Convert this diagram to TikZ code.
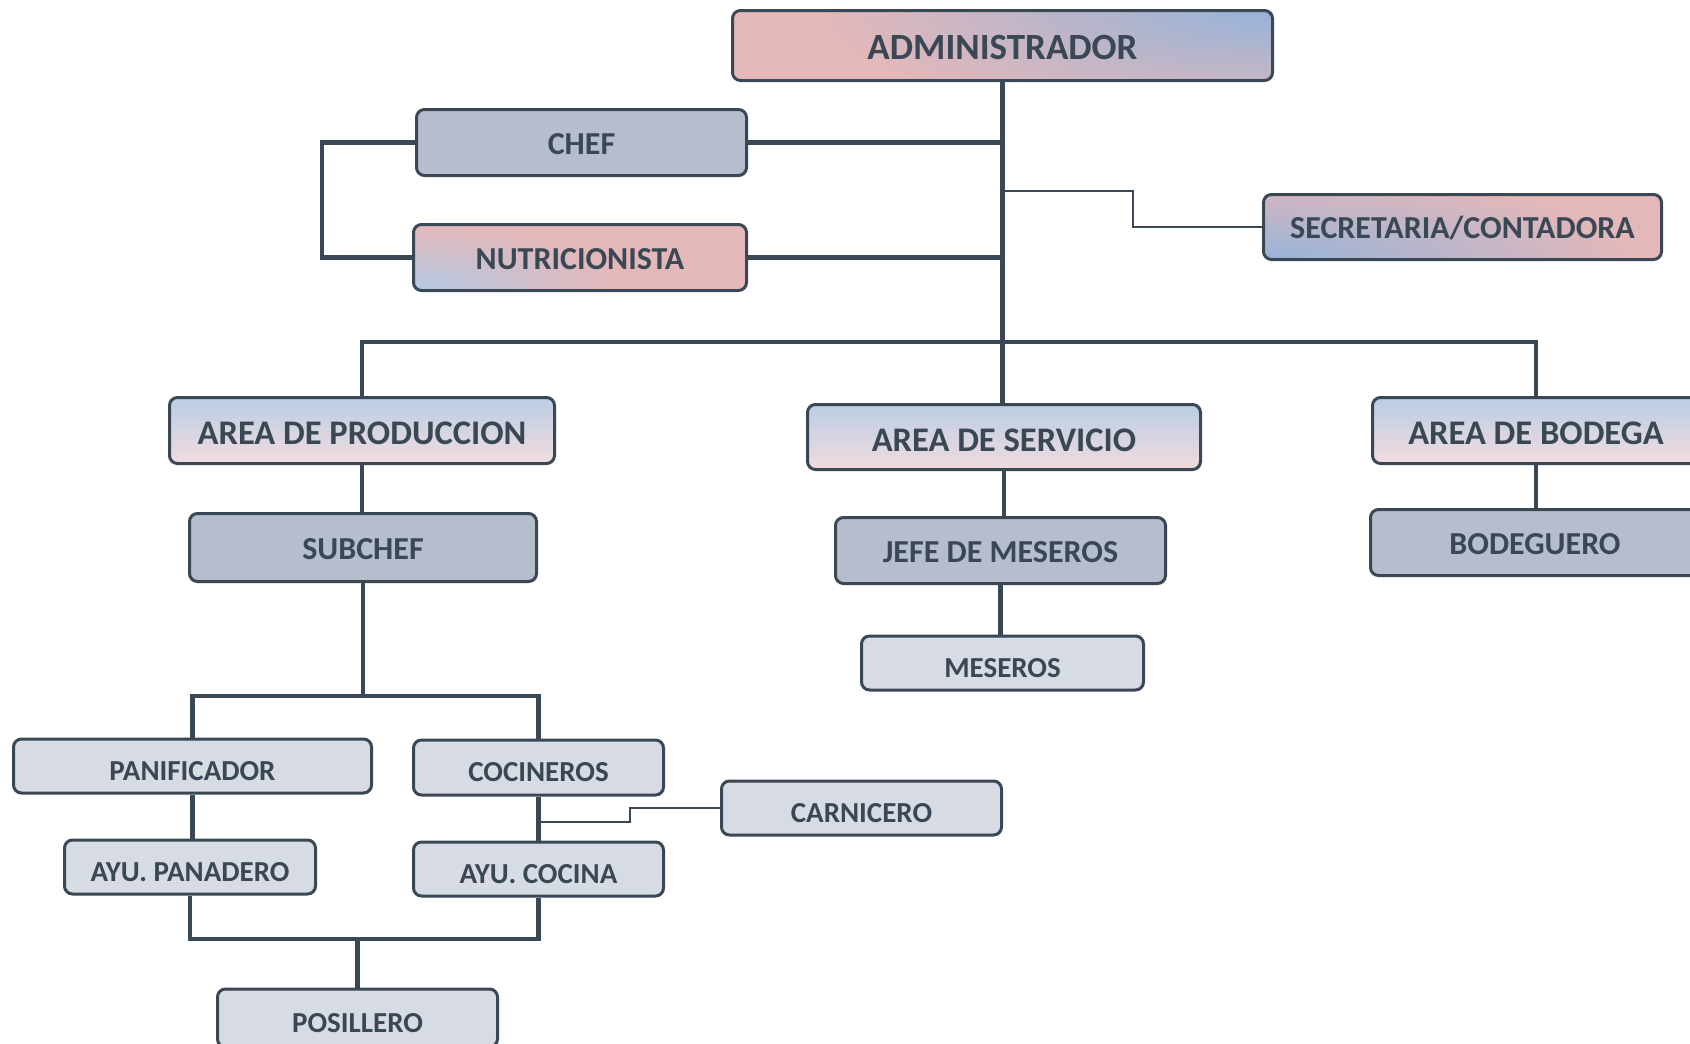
\documentclass[tikz,border=0pt]{standalone}
\usepackage{fontspec}
\setmainfont{Carlito}
\usetikzlibrary{backgrounds}
\definecolor{ink}{HTML}{3A4754}
\definecolor{pinkc}{HTML}{E4B8B9}
\definecolor{bluec}{HTML}{96B3D9}
\definecolor{lblue}{HTML}{B3C8E3}
\definecolor{areatop}{HTML}{BBCDE4}
\definecolor{areabot}{HTML}{F1DCDF}
\definecolor{midgray}{HTML}{B6BECD}
\definecolor{lightgray}{HTML}{D7DBE4}
\pgfdeclareradialshading{bluecorner}{\pgfpointorigin}{color(0bp)=(bluec); color(18bp)=(pinkc); color(50bp)=(pinkc)}
\pgfdeclareradialshading{lbluecorner}{\pgfpointorigin}{color(0bp)=(lblue); color(15bp)=(pinkc); color(50bp)=(pinkc)}
\tikzset{
  box/.style={draw=ink, line width=3pt, rounded corners=8pt, text=ink, inner sep=0pt, align=center},
  fadmin/.style={font=\fontsize{37}{44}\selectfont\bfseries, text height=27.7pt, text depth=0pt},
  farea/.style={font=\fontsize{34.5}{41}\selectfont\bfseries, text height=28pt, text depth=0pt},
  fmid/.style={font=\fontsize{32}{38}\selectfont\bfseries, text height=23.5pt, text depth=0pt},
  flow/.style={font=\fontsize{29}{35}\selectfont\bfseries, text height=28.6pt, text depth=0pt},
  areabox/.style={box, farea, top color=areatop, bottom color=areabot},
  midbox/.style={box, fmid, fill=midgray},
  lowbox/.style={box, flow, fill=lightgray},
  pinkNE/.style 2 args={box, fill=pinkc, path picture={
      \shade[shading=bluecorner] ([shift={(-#1,-#2)}]path picture bounding box.north east) rectangle ([shift={(#1,#2)}]path picture bounding box.north east);}},
  pinkSW/.style n args={3}{box, fill=pinkc, path picture={
      \shade[shading=#3] ([shift={(-#1,-#2)}]path picture bounding box.south west) rectangle ([shift={(#1,#2)}]path picture bounding box.south west);}},
  conn/.style={draw=ink, line width=4.5pt},
  thinconn/.style={draw=ink, line width=2pt},
}
\begin{document}
\begin{tikzpicture}[x=1pt,y=-1pt]
\useasboundingbox (0,0) rectangle (1690,1044);
\clip (0,0) rectangle (1690,1044);

% top
\node[pinkNE={640pt}{160pt}, fadmin, minimum width=540pt, minimum height=70pt] (admin) at (1002.5,45.5) {ADMINISTRADOR};
\node[midbox, minimum width=330pt, minimum height=66pt] (chef) at (581.5,142.5) {CHEF};
\node[pinkSW={340pt}{110pt}{lbluecorner}, fmid, minimum width=333pt, minimum height=66pt] (nutri) at (580,257.5) {NUTRICIONISTA};
\node[pinkSW={520pt}{120pt}{bluecorner}, fmid, minimum width=398pt, minimum height=65pt] (sec) at (1462.5,227) {SECRETARIA/CONTADORA};

% areas
\node[areabox, minimum width=385pt, minimum height=66pt] (prod) at (362,430.5) {AREA DE PRODUCCION};
\node[areabox, minimum width=393pt, minimum height=65pt] (serv) at (1004,437) {AREA DE SERVICIO};
\node[areabox, minimum width=327pt, minimum height=66pt] (bod) at (1536,430.5) {AREA DE BODEGA};

% level 2
\node[midbox, minimum width=347pt, minimum height=68pt] (sub) at (363,547.5) {SUBCHEF};
\node[midbox, minimum width=330pt, minimum height=66pt] (jefe) at (1000.5,550.5) {JEFE DE MESEROS};
\node[midbox, minimum width=329pt, minimum height=66pt] (bodg) at (1535,542.5) {BODEGUERO};

% level 3
\node[lowbox, minimum width=282pt, minimum height=54pt] (mes) at (1002.5,663) {MESEROS};
\node[lowbox, minimum width=358pt, minimum height=54pt] (pan) at (192.5,766) {PANIFICADOR};
\node[lowbox, minimum width=250pt, minimum height=55pt] (coc) at (538.5,767.5) {COCINEROS};
\node[lowbox, minimum width=280pt, minimum height=54pt] (carn) at (861.5,808) {CARNICERO};
\node[lowbox, minimum width=251pt, minimum height=54pt] (ayp) at (190,867) {AYU. PANADERO};
\node[lowbox, minimum width=250pt, minimum height=54pt] (ayc) at (538.5,869) {AYU. COCINA};
\node[lowbox, minimum width=280pt, minimum height=58pt] (pos) at (357.5,1018) {POSILLERO};

\begin{pgfonlayer}{background}
  \fill[white] (0,0) rectangle (1690,1044);
  % trunk
  \draw[conn] (admin.south) -- (admin.south |- serv.north);
  \draw[conn] (chef.east) -- (chef.east -| admin.south);
  \draw[conn] (nutri.east) -- (nutri.east -| admin.south);
  \draw[conn] (chef.west) -- ([xshift=-93pt]chef.west) |- (nutri.west);
  \coordinate (secbranch) at (admin.south |- 0,191);
  \draw[thinconn] (secbranch) -- ++(130,0) |- (sec.west);
  % areas bus
  \draw[conn] (prod.north) |- (bod.north |- 0,342) -- (bod.north);
  % production
  \draw[conn] (prod.south) -- (prod.south |- sub.north);
  \draw[conn] (sub.south) -- (sub.south |- 0,696);
  \draw[conn] (pan.north) |- (coc.north |- 0,696) -- (coc.north);
  \draw[conn] (pan.south) -- (pan.south |- ayp.north);
  \draw[conn] (coc.south) -- (ayc.north);
  \coordinate (cbranch) at (coc.south |- 0,822);
  \draw[thinconn] (cbranch) -- ++(91,0) |- (carn.west);
  \draw[conn] (ayp.south) |- (ayc.south |- 0,939) -- (ayc.south);
  \draw[conn] (pos.north |- 0,939) -- (pos.north);
  % service
  \draw[conn] (serv.south) -- (serv.south |- jefe.north);
  \draw[conn] (jefe.south) -- (jefe.south |- mes.north);
  % bodega
  \draw[conn] (bod.south) -- (bod.south |- bodg.north);
\end{pgfonlayer}
\end{tikzpicture}
\end{document}
